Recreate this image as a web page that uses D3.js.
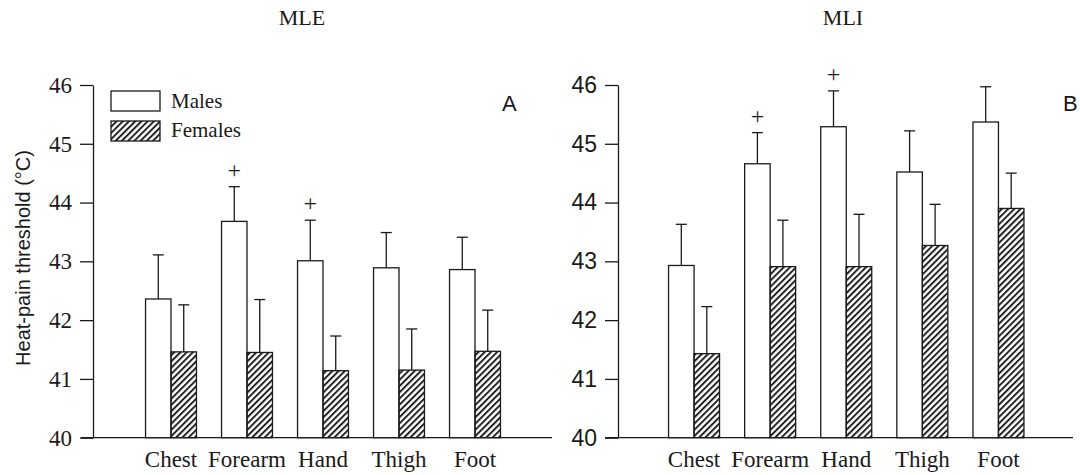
<!DOCTYPE html>
<html>
<head>
<meta charset="utf-8">
<script src="https://cdn.jsdelivr.net/npm/d3@7"></script>
<style>
  body { margin: 0; background: #fff; }
  svg { display: block; }
</style>
</head>
<body>
<script>
// values (means and upper SD of heat-pain threshold, deg C)
const categories = ["Chest", "Forearm", "Hand", "Thigh", "Foot"];
const sexes = ["Males", "Females"];
const yTicks = [40, 41, 42, 43, 44, 45, 46];

const mleMales = [42.36, 43.68, 43.01, 42.89, 42.86];
const mleMalesErr = [0.75, 0.59, 0.69, 0.60, 0.55];
const mleFemales = [41.46, 41.45, 41.14, 41.15, 41.47];
const mleFemalesErr = [0.80, 0.90, 0.59, 0.70, 0.70];
const mleSig = [false, true, true, false, false];

const mliMales = [42.93, 44.66, 45.29, 44.52, 45.37];
const mliMalesErr = [0.70, 0.53, 0.61, 0.70, 0.60];
const mliFemales = [41.43, 42.91, 42.91, 43.27, 43.90];
const mliFemalesErr = [0.80, 0.79, 0.89, 0.70, 0.60];
const mliSig = [false, true, true, false, false];

const ink = "#1a1a1a";
const serif = "'Liberation Serif', 'Times New Roman', serif";
const sans = "'Liberation Sans', Arial, sans-serif";

const svg = d3.select("body").append("svg")
  .attr("width", 1080)
  .attr("height", 475);

// hatch for females
const defs = svg.append("defs");
defs.append("pattern")
  .attr("id", "hatch")
  .attr("patternUnits", "userSpaceOnUse")
  .attr("width", 4.4)
  .attr("height", 4.4)
  .attr("patternTransform", "rotate(45)")
  .append("line")
  .attr("x1", 1).attr("y1", 0)
  .attr("x2", 1).attr("y2", 4.4)
  .attr("stroke", ink)
  .attr("stroke-width", 1.9);

const yScale = d3.scaleLinear().domain([40, 46]).range([437.7, 85]);

function rows(m, me, f, fe, sig) {
  return categories.map((c, i) => ({
    cat: c,
    sig: sig[i],
    bars: [
      { sex: "Males", v: m[i], e: me[i] },
      { sex: "Females", v: f[i], e: fe[i] }
    ]
  }));
}

function drawPanel(opts) {
  const g = svg.append("g");
  const data = rows(opts.m, opts.me, opts.f, opts.fe, opts.sig);

  const x0 = d3.scaleBand()
    .domain(categories)
    .range(opts.xRange)
    .paddingInner(0.33)
    .paddingOuter(0.165);
  const x1 = d3.scaleBand()
    .domain(sexes)
    .range([0, x0.bandwidth()]);

  // y axis
  const yAxis = d3.axisLeft(yScale)
    .tickValues(yTicks)
    .tickFormat(d3.format("d"))
    .tickSize(13)
    .tickSizeOuter(0)
    .tickPadding(8);
  const gy = g.append("g")
    .attr("transform", "translate(" + opts.axisX + ",0)")
    .call(yAxis);
  gy.selectAll("path, line").attr("stroke", ink).attr("stroke-width", 1.3);
  gy.selectAll("text")
    .style("font-family", opts.tickFont)
    .style("font-size", "23px")
    .attr("fill", ink);

  // baseline
  g.append("line")
    .attr("x1", opts.baseFrom).attr("x2", opts.baseTo)
    .attr("y1", yScale(40)).attr("y2", yScale(40))
    .attr("stroke", ink).attr("stroke-width", 1.3);

  // category labels
  const gx = g.append("g")
    .attr("transform", "translate(0," + yScale(40) + ")")
    .call(d3.axisBottom(x0).tickSize(0).tickPadding(13));
  gx.select(".domain").remove();
  gx.selectAll("text")
    .style("font-family", serif)
    .style("font-size", "23px")
    .attr("fill", ink);

  const groups = g.selectAll(".grp")
    .data(data)
    .enter()
    .append("g")
    .attr("class", "grp")
    .attr("transform", d => "translate(" + x0(d.cat) + ",0)");

  // error bars (upper only)
  const err = groups.selectAll(".err")
    .data(d => d.bars)
    .enter()
    .append("g")
    .attr("class", "err");
  err.append("line")
    .attr("x1", d => x1(d.sex) + x1.bandwidth() / 2)
    .attr("x2", d => x1(d.sex) + x1.bandwidth() / 2)
    .attr("y1", d => yScale(d.v))
    .attr("y2", d => yScale(d.v + d.e))
    .attr("stroke", ink).attr("stroke-width", 1.3);
  err.append("line")
    .attr("x1", d => x1(d.sex) + x1.bandwidth() / 2 - 5.5)
    .attr("x2", d => x1(d.sex) + x1.bandwidth() / 2 + 5.5)
    .attr("y1", d => yScale(d.v + d.e))
    .attr("y2", d => yScale(d.v + d.e))
    .attr("stroke", ink).attr("stroke-width", 1.3);

  groups.selectAll("rect")
    .data(d => d.bars)
    .enter()
    .append("rect")
    .attr("x", d => x1(d.sex))
    .attr("y", d => yScale(d.v))
    .attr("width", x1.bandwidth())
    .attr("height", d => yScale(40) - yScale(d.v))
    .attr("fill", d => d.sex == "Males" ? "#fff" : "url(#hatch)")
    .attr("stroke", ink)
    .attr("stroke-width", 1.3);

  // significance marks over the male bars
  groups.filter(d => d.sig)
    .append("text")
    .attr("x", x1("Males") + x1.bandwidth() / 2)
    .attr("y", d => yScale(d.bars[0].v + d.bars[0].e) - 16 + 7)
    .attr("text-anchor", "middle")
    .style("font-family", serif)
    .style("font-size", "24px")
    .attr("fill", ink)
    .text("+");

  // panel title and letter
  g.append("text")
    .attr("x", opts.titleX).attr("y", 25)
    .attr("text-anchor", "middle")
    .style("font-family", serif)
    .style("font-size", "22px")
    .attr("fill", ink)
    .text(opts.title);
  g.append("text")
    .attr("x", opts.letterX).attr("y", 111)
    .style("font-family", sans)
    .style("font-size", "22px")
    .attr("fill", ink)
    .text(opts.letter);
}

drawPanel({
  m: mleMales, me: mleMalesErr, f: mleFemales, fe: mleFemalesErr, sig: mleSig,
  xRange: [133, 513], axisX: 93, baseFrom: 81, baseTo: 552,
  tickFont: serif, title: "MLE", titleX: 302, letter: "A", letterX: 502
});

drawPanel({
  m: mliMales, me: mliMalesErr, f: mliFemales, fe: mliFemalesErr, sig: mliSig,
  xRange: [656, 1036.5], axisX: 618, baseFrom: 605, baseTo: 1073,
  tickFont: sans, title: "MLI", titleX: 843, letter: "B", letterX: 1063
});

// legend (panel A only)
const legend = svg.append("g");
sexes.forEach((s, i) => {
  legend.append("rect")
    .attr("x", 111).attr("y", 91 + i * 30)
    .attr("width", 49).attr("height", 20)
    .attr("fill", s == "Males" ? "#fff" : "url(#hatch)")
    .attr("stroke", ink).attr("stroke-width", 1.3);
  legend.append("text")
    .attr("x", 171).attr("y", 108 + i * 29)
    .style("font-family", serif)
    .style("font-size", "21px")
    .attr("fill", ink)
    .text(s);
});

// y axis title
svg.append("text")
  .attr("transform", "translate(30,258) rotate(-90)")
  .attr("text-anchor", "middle")
  .style("font-family", sans)
  .style("font-size", "20px")
  .attr("fill", ink)
  .text("Heat-pain threshold (°C)");
</script>
</body>
</html>
